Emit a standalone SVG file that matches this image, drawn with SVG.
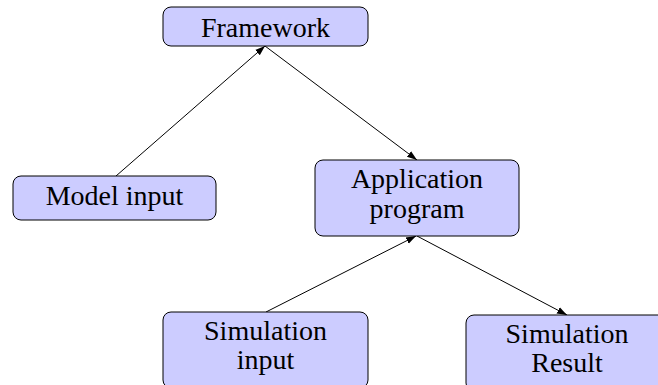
<svg xmlns="http://www.w3.org/2000/svg" width="658" height="385" viewBox="0 0 658 385">
<style>
.box{fill:#ccccff;stroke:#000;stroke-width:1}
.t{font-family:"Liberation Serif","DejaVu Serif",serif;font-size:28px;fill:#000;text-anchor:middle}
.e{stroke:#000;stroke-width:1;fill:none;marker-end:url(#ah)}
</style>
<defs>
<marker id="ah" viewBox="0 0 10 10" refX="10" refY="5" markerWidth="10" markerHeight="10" markerUnits="userSpaceOnUse" orient="auto">
<path d="M0,1.5 L10,5 L0,8.5 Z" fill="#000"/>
</marker>
</defs>
<rect width="658" height="385" fill="#fff"/>
<g id="edges">
<line class="e" x1="116" y1="176" x2="265" y2="46"/>
<line class="e" x1="265" y1="46" x2="417" y2="160"/>
<line class="e" x1="266" y1="312" x2="416" y2="236"/>
<line class="e" x1="417" y1="236" x2="567" y2="315"/>
</g>
<g id="framework">
<rect class="box" x="163" y="7" width="205" height="39" rx="8"/>
<text class="t" x="265.5" y="37">Framework</text>
</g>
<g id="model-input">
<rect class="box" x="13" y="176" width="203" height="44" rx="8"/>
<text class="t" x="114.5" y="205">Model input</text>
</g>
<g id="application">
<rect class="box" x="315" y="160" width="204" height="76" rx="8"/>
<text class="t" x="417" y="188">Application</text>
<text class="t" x="417" y="218">program</text>
</g>
<g id="simulation-input">
<rect class="box" x="163" y="312" width="205" height="76" rx="8"/>
<text class="t" x="265.5" y="340">Simulation</text>
<text class="t" x="265.5" y="369">input</text>
</g>
<g id="simulation-result">
<rect class="box" x="466" y="315" width="204" height="76" rx="8"/>
<text class="t" x="567" y="343">Simulation</text>
<text class="t" x="567" y="372">Result</text>
</g>
</svg>
